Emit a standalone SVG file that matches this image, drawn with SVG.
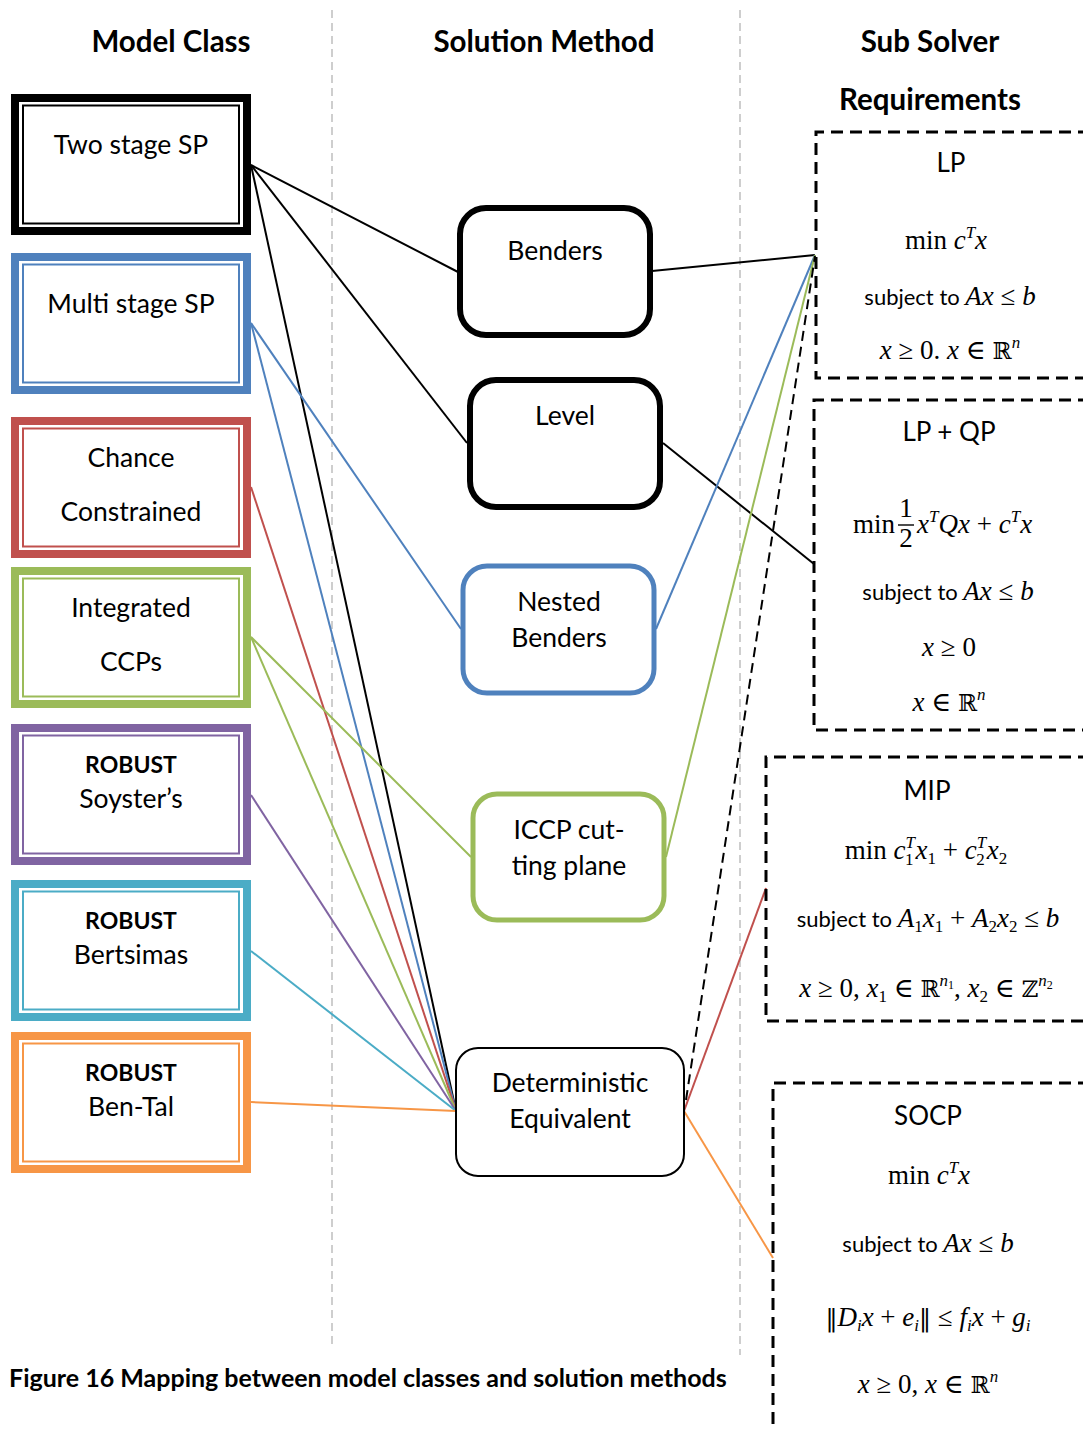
<svg xmlns="http://www.w3.org/2000/svg" width="1083" height="1430" viewBox="0 0 1083 1430">
<style>
  .hdr { font-family: Lato, "Open Sans", sans-serif; font-weight: bold; font-size: 29.5px; fill: #000; text-anchor: middle; }
  .lbl { font-family: Lato, "Open Sans", sans-serif; font-size: 26.5px; fill: #000; text-anchor: middle; }
  .bold { font-weight: bold; font-size: 23px; }
  .sub { font-family: Lato, "Open Sans", sans-serif; font-size: 22px; fill: #000; }
  .ttl { font-family: Lato, "Open Sans", sans-serif; font-size: 26px; fill: #000; text-anchor: middle; }
  .m { font-family: "Liberation Serif", "DejaVu Serif", serif; font-size: 27px; fill: #000; text-anchor: middle; }
  .ms { font-family: "Liberation Serif", "DejaVu Serif", serif; font-size: 27px; fill: #000; }
  .i { font-style: italic; }
  .bb { font-family: "DejaVu Serif", serif; font-size: 23px; }
  .nrm { font-family: "DejaVu Serif", serif; font-size: 24px; }
  .sup { font-size: 17px; font-style: italic; }
  .divider { stroke: #BFBFBF; stroke-width: 1.5; stroke-dasharray: 8 5; fill: none; }
  .outer { fill: #fff; stroke-width: 8; }
  .inner { fill: none; stroke-width: 2; }
  .method { fill: #fff; }
  .req { fill: none; stroke: #000; stroke-width: 3; stroke-dasharray: 12 7; }
  .conn { fill: none; stroke-width: 2; }
</style>

<rect width="1083" height="1430" fill="#fff"/>

<!-- column dividers -->
<line class="divider" x1="332" y1="10" x2="332" y2="1345"/>
<line class="divider" x1="740" y1="10" x2="740" y2="1355"/>

<!-- column headers -->
<text class="hdr" x="171" y="52">Model Class</text>
<text class="hdr" x="544" y="52">Solution Method</text>
<text class="hdr" x="930" y="52">Sub Solver</text>
<text class="hdr" x="930" y="110">Requirements</text>

<!-- connectors -->
<g id="connectors">
  <line class="conn" stroke="#000" x1="251" y1="165" x2="458" y2="272"/>
  <line class="conn" stroke="#000" x1="251" y1="165" x2="467" y2="443"/>
  <line class="conn" stroke="#000" x1="251" y1="165" x2="456" y2="1111"/>
  <line class="conn" stroke="#000" x1="652" y1="271" x2="815" y2="255"/>
  <line class="conn" stroke="#000" x1="663" y1="443" x2="814" y2="564"/>
  <line class="conn" stroke="#4F81BD" x1="251" y1="323" x2="461" y2="629"/>
  <line class="conn" stroke="#4F81BD" x1="251" y1="323" x2="456" y2="1111"/>
  <line class="conn" stroke="#4F81BD" x1="656" y1="629" x2="815" y2="255"/>
  <line class="conn" stroke="#C0504D" x1="251" y1="487" x2="456" y2="1111"/>
  <line class="conn" stroke="#C0504D" x1="684" y1="1111" x2="766" y2="888"/>
  <line class="conn" stroke="#9BBB59" x1="251" y1="637" x2="471" y2="857"/>
  <line class="conn" stroke="#9BBB59" x1="251" y1="637" x2="456" y2="1111"/>
  <line class="conn" stroke="#9BBB59" x1="666" y1="857" x2="815" y2="255"/>
  <line class="conn" stroke="#8064A2" x1="251" y1="795" x2="456" y2="1111"/>
  <line class="conn" stroke="#4BACC6" x1="251" y1="951" x2="456" y2="1111"/>
  <line class="conn" stroke="#F79646" x1="251" y1="1102" x2="456" y2="1111"/>
  <line class="conn" stroke="#F79646" x1="684" y1="1111" x2="773" y2="1258"/>
  <line class="conn" stroke="#000" stroke-width="2.5" stroke-dasharray="10 6" x1="686" y1="1100" x2="815" y2="256"/>
</g>

<!-- model classes -->
<g id="two-stage">
  <rect class="outer" stroke="#000" x="15" y="98" width="232" height="133"/>
  <rect class="inner" stroke="#000" x="23" y="105.5" width="216" height="118"/>
  <text class="lbl" x="131" y="154">Two stage SP</text>
</g>
<g id="multi-stage">
  <rect class="outer" stroke="#4F81BD" x="15" y="257" width="232" height="133"/>
  <rect class="inner" stroke="#4F81BD" x="23" y="264.5" width="216" height="118"/>
  <text class="lbl" x="131" y="313">Multi stage SP</text>
</g>
<g id="chance">
  <rect class="outer" stroke="#C0504D" x="15" y="421" width="232" height="133"/>
  <rect class="inner" stroke="#C0504D" x="23" y="428.5" width="216" height="118"/>
  <text class="lbl" x="131" y="467">Chance</text>
  <text class="lbl" x="131" y="521">Constrained</text>
</g>
<g id="iccp-class">
  <rect class="outer" stroke="#9BBB59" x="15" y="571" width="232" height="133"/>
  <rect class="inner" stroke="#9BBB59" x="23" y="578.5" width="216" height="118"/>
  <text class="lbl" x="131" y="617">Integrated</text>
  <text class="lbl" x="131" y="671">CCPs</text>
</g>
<g id="soyster">
  <rect class="outer" stroke="#8064A2" x="15" y="728" width="232" height="133"/>
  <rect class="inner" stroke="#8064A2" x="23" y="735.5" width="216" height="118"/>
  <text class="lbl bold" x="131" y="773">ROBUST</text>
  <text class="lbl" x="131" y="808">Soyster’s</text>
</g>
<g id="bertsimas">
  <rect class="outer" stroke="#4BACC6" x="15" y="884" width="232" height="133"/>
  <rect class="inner" stroke="#4BACC6" x="23" y="891.5" width="216" height="118"/>
  <text class="lbl bold" x="131" y="929">ROBUST</text>
  <text class="lbl" x="131" y="964">Bertsimas</text>
</g>
<g id="ben-tal">
  <rect class="outer" stroke="#F79646" x="15" y="1036" width="232" height="133"/>
  <rect class="inner" stroke="#F79646" x="23" y="1043.5" width="216" height="118"/>
  <text class="lbl bold" x="131" y="1081">ROBUST</text>
  <text class="lbl" x="131" y="1116">Ben-Tal</text>
</g>

<!-- solution methods -->
<g id="benders">
  <rect class="method" stroke="#000" stroke-width="6" x="460" y="208" width="190" height="127" rx="26"/>
  <text class="lbl" x="555" y="260">Benders</text>
</g>
<g id="level">
  <rect class="method" stroke="#000" stroke-width="6" x="470" y="380" width="190" height="127" rx="26"/>
  <text class="lbl" x="565" y="425">Level</text>
</g>
<g id="nested-benders">
  <rect class="method" stroke="#4F81BD" stroke-width="5" x="463" y="566" width="191" height="127" rx="24"/>
  <text class="lbl" x="559" y="611">Nested</text>
  <text class="lbl" x="559" y="647">Benders</text>
</g>
<g id="iccp">
  <rect class="method" stroke="#9BBB59" stroke-width="5" x="473" y="794" width="191" height="126" rx="24"/>
  <text class="lbl" x="569" y="839">ICCP cut-</text>
  <text class="lbl" x="569" y="875">ting plane</text>
</g>
<g id="det-eq">
  <rect class="method" stroke="#000" stroke-width="2" x="456" y="1048" width="228" height="128" rx="22"/>
  <text class="lbl" x="570" y="1092">Deterministic</text>
  <text class="lbl" x="570" y="1128">Equivalent</text>
</g>

<!-- sub solver requirements -->
<g id="lp">
  <path class="req" d="M1090,132 H816 V378 H1090"/>
  <text class="ttl" x="951" y="172">LP</text>
  <text class="m" x="946" y="249">min <tspan class="i">c</tspan><tspan class="sup" dy="-11">T</tspan><tspan class="i" dy="11">x</tspan></text>
  <text class="m" x="950" y="305"><tspan class="sub">subject to </tspan><tspan class="i">Ax</tspan> ≤ <tspan class="i">b</tspan></text>
  <text class="m" x="950" y="359"><tspan class="i">x</tspan> ≥ 0. <tspan class="i">x</tspan> ∈ <tspan class="bb">ℝ</tspan><tspan class="sup" dy="-11">n</tspan></text>
</g>
<g id="lp-qp">
  <path class="req" d="M1090,400 H814 V730 H1090"/>
  <text class="ttl" x="949" y="441">LP + QP</text>
  <text class="ms" x="853" y="533">min</text>
  <text class="m" x="906" y="517" font-size="23">1</text>
  <line x1="898" y1="525" x2="914" y2="525" stroke="#000" stroke-width="1.4"/>
  <text class="m" x="906" y="547" font-size="23">2</text>
  <text class="ms" x="917" y="533"><tspan class="i">x</tspan><tspan class="sup" dy="-11">T</tspan><tspan class="i" dy="11">Qx</tspan> + <tspan class="i">c</tspan><tspan class="sup" dy="-11">T</tspan><tspan class="i" dy="11">x</tspan></text>
  <text class="m" x="948" y="600"><tspan class="sub">subject to </tspan><tspan class="i">Ax</tspan> ≤ <tspan class="i">b</tspan></text>
  <text class="m" x="949" y="656"><tspan class="i">x</tspan> ≥ 0</text>
  <text class="m" x="949" y="711"><tspan class="i">x</tspan> ∈ <tspan class="bb">ℝ</tspan><tspan class="sup" dy="-11">n</tspan></text>
</g>
<g id="mip">
  <path class="req" d="M1090,757 H766 V1021 H1090"/>
  <text class="ttl" x="927" y="800">MIP</text>
  <text class="m" x="926" y="859">min <tspan class="i">c</tspan><tspan class="sup" dy="-11">T</tspan><tspan font-size="17" dx="-10" dy="17">1</tspan><tspan class="i" dx="2" dy="-6">x</tspan><tspan font-size="17" dy="5">1</tspan><tspan dy="-5"> + </tspan><tspan class="i">c</tspan><tspan class="sup" dy="-11">T</tspan><tspan font-size="17" dx="-10" dy="17">2</tspan><tspan class="i" dx="2" dy="-6">x</tspan><tspan font-size="17" dy="5">2</tspan></text>
  <text class="m" x="928" y="927"><tspan class="sub">subject to </tspan><tspan class="i">A</tspan><tspan font-size="17" dy="5">1</tspan><tspan class="i" dy="-5">x</tspan><tspan font-size="17" dy="5">1</tspan><tspan dy="-5"> + </tspan><tspan class="i">A</tspan><tspan font-size="17" dy="5">2</tspan><tspan class="i" dy="-5">x</tspan><tspan font-size="17" dy="5">2</tspan><tspan dy="-5"> ≤ </tspan><tspan class="i">b</tspan></text>
  <text class="m" x="926" y="997"><tspan class="i">x</tspan> ≥ 0,  <tspan class="i">x</tspan><tspan font-size="17" dy="5">1</tspan><tspan dy="-5"> ∈ </tspan><tspan class="bb">ℝ</tspan><tspan class="sup" dy="-11">n</tspan><tspan font-size="12" dy="3">1</tspan><tspan dy="8">, </tspan><tspan class="i">x</tspan><tspan font-size="17" dy="5">2</tspan><tspan dy="-5"> ∈ </tspan><tspan class="bb">ℤ</tspan><tspan class="sup" dy="-11">n</tspan><tspan font-size="12" dy="3">2</tspan></text>
</g>
<g id="socp">
  <path class="req" d="M1090,1083 H773 V1435"/>
  <text class="ttl" x="928" y="1125">SOCP</text>
  <text class="m" x="929" y="1184">min <tspan class="i">c</tspan><tspan class="sup" dy="-11">T</tspan><tspan class="i" dy="11">x</tspan></text>
  <text class="m" x="928" y="1252"><tspan class="sub">subject to  </tspan><tspan class="i">Ax</tspan> ≤ <tspan class="i">b</tspan></text>
  <text class="m" x="928" y="1326"><tspan class="nrm">‖</tspan><tspan class="i">D</tspan><tspan class="i" font-size="17" dy="5">i</tspan><tspan class="i" dy="-5">x</tspan> + <tspan class="i">e</tspan><tspan class="i" font-size="17" dy="5">i</tspan><tspan class="nrm" dy="-5">‖</tspan> ≤ <tspan class="i">f</tspan><tspan class="i" font-size="17" dy="5">i</tspan><tspan class="i" dy="-5">x</tspan> + <tspan class="i">g</tspan><tspan class="i" font-size="17" dy="5">i</tspan></text>
  <text class="m" x="928" y="1393"><tspan class="i">x</tspan> ≥ 0, <tspan class="i">x</tspan> ∈ <tspan class="bb">ℝ</tspan><tspan class="sup" dy="-11">n</tspan></text>
</g>

<!-- caption -->
<text x="9" y="1387" font-family="Lato, 'Open Sans', sans-serif" font-weight="bold" font-size="25" fill="#000">Figure 16 Mapping between model classes and solution methods</text>
</svg>
